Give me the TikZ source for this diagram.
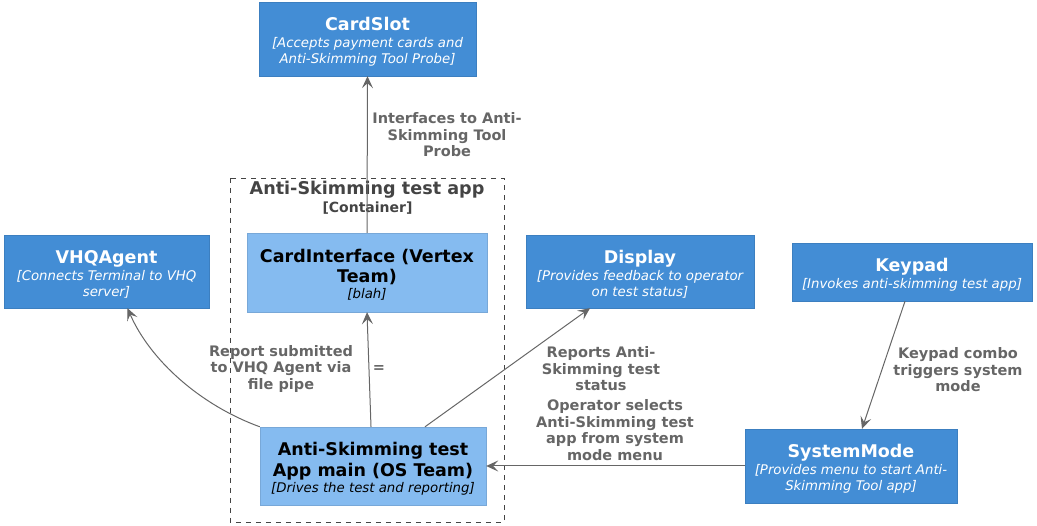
\documentclass[tikz,border=0pt]{standalone}
\usepackage{fontspec}
\setmainfont{DejaVu Sans}
\usetikzlibrary{arrows.meta}
\definecolor{sysblue}{HTML}{438DD5}
\definecolor{sysline}{HTML}{3C7FC0}
\definecolor{compblue}{HTML}{85BBF0}
\definecolor{compline}{HTML}{78A8D8}
\definecolor{relgray}{HTML}{666666}
\definecolor{boxgray}{HTML}{444444}

\tikzset{
  extbox/.style={rectangle, draw=sysline, fill=sysblue, text=white, align=center, inner sep=0pt, font=\fontsize{13.3}{16}\selectfont},
  compbox/.style={rectangle, draw=compline, fill=compblue, text=black, align=center, inner sep=0pt, font=\fontsize{13.3}{16}\selectfont},
  rel/.style={draw=relgray, line width=1pt, -{Stealth[length=12pt,width=11pt,inset=5pt]}},
  rellabel/.style={text=relgray, align=center, font=\fontsize{14.5}{16.5}\selectfont\bfseries},
}
\newcommand{\boxtitle}[1]{{\fontsize{17.5}{20}\selectfont\bfseries\rule{0pt}{18pt}#1}}

\begin{document}
\begin{tikzpicture}[x=1pt, y=-1pt]

\useasboundingbox (0,0) rectangle (1037,526);

% container
\draw[boxgray, line width=0.9pt, dash pattern=on 5pt off 5pt] (230,178) rectangle (504,522);
\node at (367,190) (apptitle) [text=boxgray, font=\fontsize{17.6}{20}\selectfont\bfseries] {Anti-Skimming test app};
\node at (367.5,208) (appkind) [text=boxgray, font=\fontsize{14}{16}\selectfont\bfseries] {[Container]};

% boxes
\node at (367.5,39) [extbox, minimum width=217pt, minimum height=74pt] (cardslot) {\boxtitle{CardSlot}\\[1pt]\itshape [Accepts payment cards and\\\itshape Anti-Skimming Tool Probe]};
\node at (106.5,271.5) [extbox, minimum width=205pt, minimum height=73pt] (vhqagent) {\boxtitle{VHQAgent}\\[1pt]\itshape [Connects Terminal to VHQ\\\itshape server]};
\node at (367,272.5) [compbox, minimum width=240pt, minimum height=79pt] (cardiface) {\boxtitle{CardInterface (Vertex}\\[-2pt]\boxtitle{Team)}\\\itshape [blah]};
\node at (640,271.5) [extbox, minimum width=228pt, minimum height=73pt] (display) {\boxtitle{Display}\\[1pt]\itshape [Provides feedback to operator\\\itshape on test status]};
\node at (912,272) [extbox, minimum width=240pt, minimum height=58pt] (keypad) {\boxtitle{Keypad}\\[1pt]\itshape [Invokes anti-skimming test app]};
\node at (373,466) [compbox, minimum width=226pt, minimum height=78pt] (appmain) {\boxtitle{Anti-Skimming test}\\[-2pt]\boxtitle{App main (OS Team)}\\\itshape [Drives the test and reporting]};
\node at (851,466) [extbox, minimum width=212pt, minimum height=74pt] (sysmode) {\boxtitle{SystemMode}\\[1pt]\itshape [Provides menu to start Anti-\\\itshape Skimming Tool app]};

% labels
\node at (447,135) (lblslot) [rellabel] {Interfaces to Anti-\\Skimming Tool\\Probe};
\node at (379,369) (lbliface) [rellabel] {=};
\node at (281,369) (lblvhq) [rellabel] {Report submitted\\to VHQ Agent via\\file pipe};
\node at (601,369) (lbldisp) [rellabel] {Reports Anti-\\Skimming test\\status};
\node at (615,430) (lblmode) [rellabel] {Operator selects\\Anti-Skimming test\\app from system\\mode menu};
\node at (958,370) (lblkey) [rellabel] {Keypad combo\\triggers system\\mode};

% relations
\draw [rel] (cardiface.north) -- (cardslot.south);
\draw [rel] ([xshift=-2pt]appmain.north) -- (cardiface.south);
\draw [rel] (appmain.north west) .. controls (200,405) and (150,360) .. ([xshift=21pt]vhqagent.south);
\draw [rel] ([xshift=52pt]appmain.north) -- ([xshift=-50pt]display.south);
\draw [rel] (sysmode.west) -- (appmain.east);
\draw [rel] ([xshift=-7pt]keypad.south) -- ([xshift=11pt]sysmode.north);

\end{tikzpicture}
\end{document}
